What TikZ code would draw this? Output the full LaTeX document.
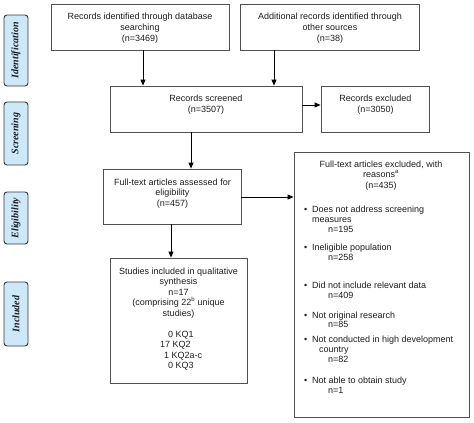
\documentclass[tikz,border=0pt]{standalone}
\usepackage{fontspec}
\setmainfont{Liberation Sans}
\newfontfamily\labfont{Liberation Serif}
\usetikzlibrary{arrows.meta}
\definecolor{boxgray}{HTML}{505050}
\definecolor{labfill}{HTML}{CDE8F8}
\definecolor{labdraw}{HTML}{3A3A3A}
\definecolor{txt}{HTML}{1E1E1E}
\begin{document}
\begin{tikzpicture}[x=1pt,y=-1pt,
  box/.style={draw=boxgray, line width=0.8pt, inner sep=0pt, fill=white},
  side/.style={draw=labdraw, fill=labfill, line width=0.9pt, rounded corners=3pt, inner sep=0pt, minimum width=24pt},
  sidetxt/.style={rotate=90, font=\labfont\bfseries\itshape\fontsize{10}{12}\selectfont, text=txt, inner sep=0pt},
  tx/.style={font=\fontsize{9}{10.5}\selectfont, text=txt, inner sep=0pt, anchor=base},
  txl/.style={font=\fontsize{9}{10.5}\selectfont, text=txt, inner sep=0pt, anchor=base west},
  arr/.style={draw=black, line width=0.9pt, -{Triangle[length=6pt,width=5pt]}}
]
\useasboundingbox (0,0) rectangle (474,423);
% side labels
\node[side, minimum height=71pt] (idlab) at (16,50.5) {};
\node[sidetxt] (idtxt) at (idlab.center) {Identification};
\node[side, minimum height=63pt] (scrlab) at (16,133.5) {};
\node[sidetxt] (scrtxt) at (scrlab.center) {Screening};
\node[side, minimum height=52pt] (elilab) at (16,218) {};
\node[sidetxt] (elitxt) at (elilab.center) {Eligibility};
\node[side, minimum height=64pt] (inclab) at (16,314) {};
\node[sidetxt] (inctxt) at (inclab.center) {Included};
% boxes
\node[box, minimum width=178pt, minimum height=46pt] (db) at (140,27) {};
\node[box, minimum width=179pt, minimum height=46pt] (other) at (329.5,27) {};
\node[box, minimum width=192pt, minimum height=46pt] (scr) at (206,109) {};
\node[box, minimum width=108pt, minimum height=46pt] (excl) at (375,109) {};
\node[box, minimum width=138pt, minimum height=55pt] (full) at (172,196.5) {};
\node[box, minimum width=137pt, minimum height=125pt] (stud) at (178.5,320.5) {};
\node[box, minimum width=175pt, minimum height=265pt] (reas) at (381.5,284.5) {};
% arrows
\draw[arr] ([xshift=3pt]db.south) -- ([xshift=3pt]db.south |- scr.north);
\draw[arr] ([xshift=-55.5pt]other.south) -- ([xshift=-55.5pt]other.south |- scr.north);
\draw[arr] ([yshift=4pt]scr.east) -- ([yshift=4pt]scr.east -| excl.west);
\draw[arr] ([xshift=-15pt]scr.south) -- ([xshift=-15pt]scr.south |- full.north);
\draw[arr] ([yshift=-0.5pt]full.east) -- ([yshift=-0.5pt]full.east -| reas.west);
\draw[arr] ([xshift=-1pt]full.south) -- ([xshift=-1pt]full.south |- stud.north);
% texts: database
\node[tx] (db1) at (140,19.3) {Records identified through database};
\node[tx] (db2) at (140,30.3) {searching};
\node[tx] (db3) at (140,41.3) {(n=3469)};
\node[tx] (ot1) at (330,19.3) {Additional records identified through};
\node[tx] (ot2) at (330,30.3) {other sources};
\node[tx] (ot3) at (330,41.3) {(n=38)};
\node[tx] (sc1) at (206,101.3) {Records screened};
\node[tx] (sc2) at (206,112.3) {(n=3507)};
\node[tx] (ex1) at (375.5,101.3) {Records excluded};
\node[tx] (ex2) at (375.5,112.3) {(n=3050)};
\node[tx] (fu1) at (172.5,185.3) {Full-text articles assessed for};
\node[tx] (fu2) at (172.5,195.8) {eligibility};
\node[tx] (fu3) at (172.5,206.3) {(n=457)};
\node[tx] (st1) at (178.5,274.3) {Studies included in qualitative};
\node[tx] (st2) at (178.5,284.8) {synthesis};
\node[tx] (st3) at (178.5,295.3) {n=17};
\node[tx] (st4) at (178.5,305.8) {(comprising 22\textsuperscript{b} unique};
\node[tx] (st5) at (178.5,316.3) {studies)};
\node[txl] (kq1) at (168,337.3) {0 KQ1};
\node[txl] (kq2) at (160,347.8) {17 KQ2};
\node[txl] (kq3) at (164,358.3) {1 KQ2a-c};
\node[txl] (kq4) at (168,368.8) {0 KQ3};
% reasons
\node[tx] (re1) at (381,167.3) {Full-text articles excluded, with};
\node[tx] (re2) at (381,177.8) {reasons\textsuperscript{a}};
\node[tx] (re3) at (381,188.3) {(n=435)};
\node[txl] (r1a) at (304,212.3) {\textbullet\hspace{4.8pt}Does not address screening};
\node[txl] (r1b) at (312,222.3) {measures};
\node[txl] (r1c) at (328,232.3) {n=195};
\node[txl] (r2a) at (304,250.3) {\textbullet\hspace{4.8pt}Ineligible population};
\node[txl] (r2b) at (328,260.3) {n=258};
\node[txl] (r3a) at (304,288.3) {\textbullet\hspace{4.8pt}Did not include relevant data};
\node[txl] (r3b) at (328,298.3) {n=409};
\node[txl] (r4a) at (304,318.3) {\textbullet\hspace{4.8pt}Not original research};
\node[txl] (r4b) at (328,327.8) {n=85};
\node[txl] (r5a) at (304,342.3) {\textbullet\hspace{4.8pt}Not conducted in high development};
\node[txl] (r5b) at (319,352.3) {country};
\node[txl] (r5c) at (328,362.3) {n=82};
\node[txl] (r6a) at (304,383.3) {\textbullet\hspace{4.8pt}Not able to obtain study};
\node[txl] (r6b) at (328,393.3) {n=1};
\end{tikzpicture}
\end{document}
